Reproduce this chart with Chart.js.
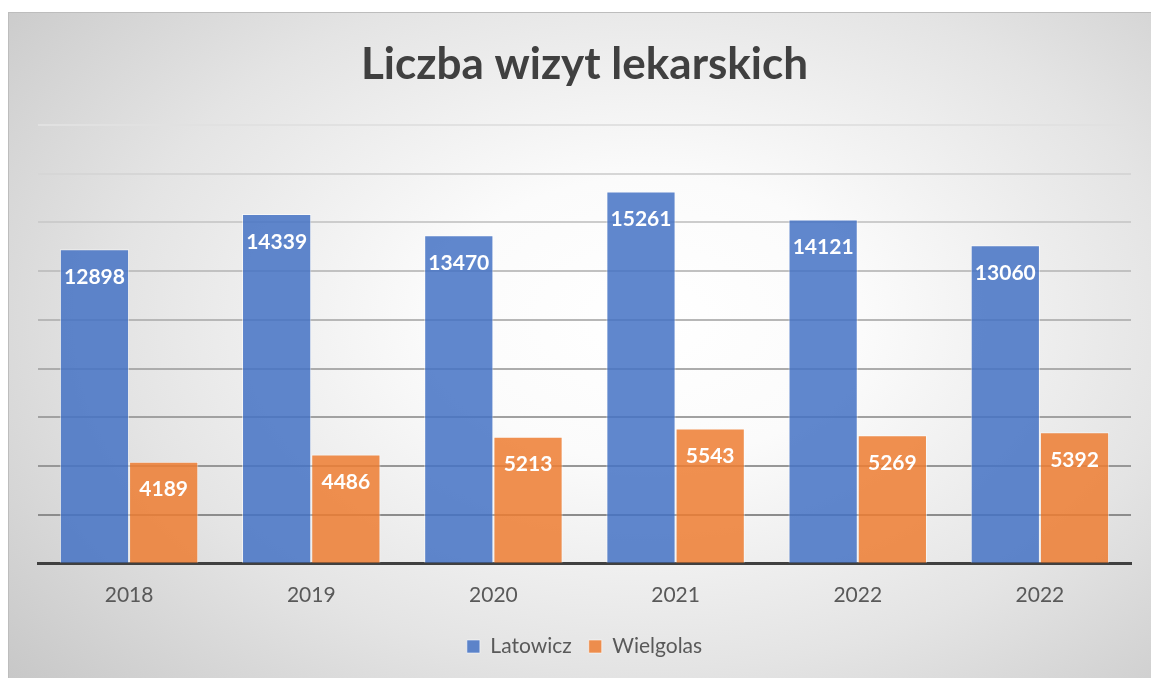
<!DOCTYPE html>
<html>
<head>
<meta charset="utf-8">
<script src="https://cdn.jsdelivr.net/npm/chart.js@4"></script>
<style>
    body { margin: 0; background: #ffffff; }
    #frame {
        position: absolute;
        left: 8px;
        top: 12px;
        width: 1142px;
        height: 665px;
        border-left: 1px solid #bdbdbd;
        border-top: 1px solid #bdbdbd;
        background: radial-gradient(ellipse 75% 85% at 56% 46%, #ffffff 0%, #fbfbfb 25%, #e4e4e4 62%, #c6c6c6 100%);
    }
</style>
</head>
<body>
<div id="frame"><canvas id="chart" width="1142" height="665"></canvas></div>
<script>
    // dane
    var years = ['2018', '2019', '2020', '2021', '2022', '2022'];
    var latowicz = [12898, 14339, 13470, 15261, 14121, 13060];
    var wielgolas = [4189, 4486, 5213, 5543, 5269, 5392];

    var font = 'Lato, "Open Sans", sans-serif';

    // etykiety wartosci wewnatrz slupkow
    var valueLabels = {
        id: 'valueLabels',
        afterDatasetsDraw: function (chart) {
            var ctx = chart.ctx;
            ctx.save();
            ctx.fillStyle = '#ffffff';
            ctx.font = 'bold 21px ' + font;
            ctx.textAlign = 'center';
            ctx.textBaseline = 'middle';
            chart.data.datasets.forEach(function (ds, i) {
                chart.getDatasetMeta(i).data.forEach(function (bar, j) {
                    ctx.fillText(ds.data[j], bar.x, bar.y + 28);
                });
            });
            ctx.restore();
        }
    };

    new Chart(document.getElementById('chart'), {
        type: 'bar',
        data: {
            labels: years,
            datasets: [
                {
                    label: 'Latowicz',
                    data: latowicz,
                    backgroundColor: 'rgba(68,114,196,0.85)',
                    borderColor: 'rgba(255,255,255,0.55)',
                    borderWidth: 1
                },
                {
                    label: 'Wielgolas',
                    data: wielgolas,
                    backgroundColor: 'rgba(237,125,49,0.85)',
                    borderColor: 'rgba(255,255,255,0.55)',
                    borderWidth: 1
                }
            ]
        },
        options: {
            responsive: false,
            animation: false,
            categoryPercentage: 0.76,
            barPercentage: 1,
            layout: {
                padding: {left: 29, right: 20, top: 0, bottom: 11}
            },
            plugins: {
                title: {
                    display: true,
                    text: 'Liczba wizyt lekarskich',
                    color: '#404040',
                    font: {family: font, size: 44, weight: 'bold'},
                    padding: {top: 25, bottom: 34}
                },
                legend: {
                    position: 'bottom',
                    labels: {
                        color: '#595959',
                        font: {family: font, size: 21},
                        boxWidth: 13,
                        boxHeight: 13,
                        padding: 17
                    }
                },
                tooltip: {enabled: false}
            },
            scales: {
                x: {
                    grid: {display: false},
                    border: {display: true, color: '#404040', width: 3},
                    ticks: {color: '#595959', font: {family: font, size: 21}, padding: 11}
                },
                y: {
                    min: 0,
                    max: 18000,
                    ticks: {display: false, stepSize: 2000},
                    border: {display: false},
                    grid: {
                        lineWidth: 2,
                        drawTicks: false,
                        color: function (c) {
                            var v = c.tick.value;
                            if (v === 0) return 'rgba(0,0,0,0)';
                            var g = Math.round(140 + (v - 2000) / 16000 * 85);
                            return 'rgb(' + g + ',' + g + ',' + g + ')';
                        }
                    }
                }
            }
        },
        plugins: [valueLabels]
    });
</script>
</body>
</html>
